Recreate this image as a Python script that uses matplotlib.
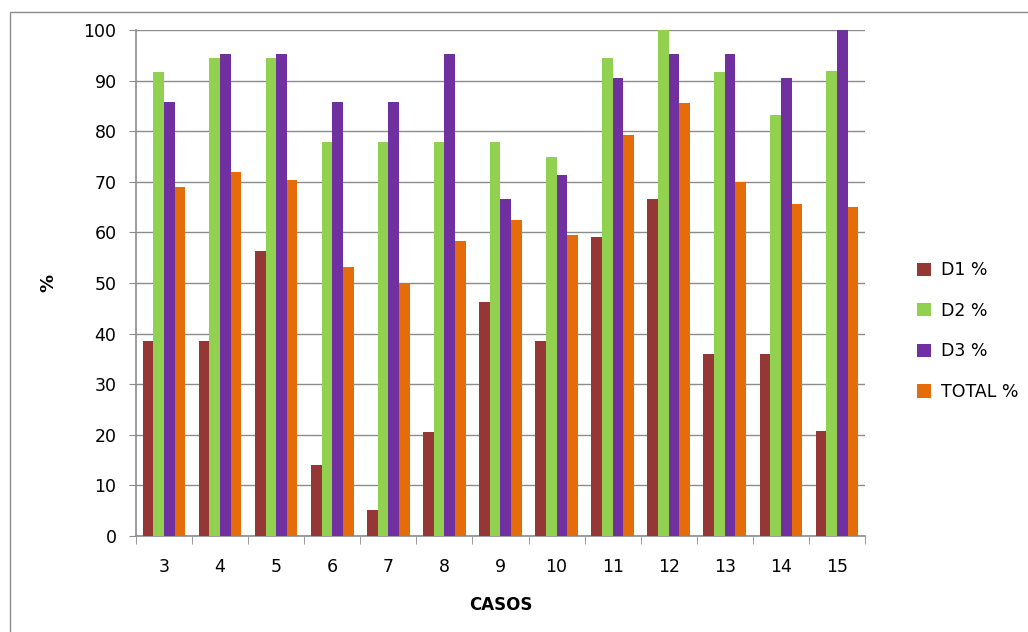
import numpy as np
import matplotlib.pyplot as plt
from matplotlib.patches import Rectangle

casos = [3, 4, 5, 6, 7, 8, 9, 10, 11, 12, 13, 14, 15]
d1 = [38.5, 38.5, 56.4, 14.1, 5.1, 20.5, 46.2, 38.5, 59.0, 66.7, 35.9, 35.9, 20.8]
d2 = [91.7, 94.4, 94.4, 77.8, 77.8, 77.8, 77.8, 75.0, 94.4, 100.0, 91.7, 83.3, 91.9]
d3 = [85.7, 95.2, 95.2, 85.7, 85.7, 95.2, 66.7, 71.4, 90.5, 95.2, 95.2, 90.5, 100.0]
total = [69.0, 71.9, 70.4, 53.1, 50.1, 58.4, 62.5, 59.4, 79.2, 85.5, 70.0, 65.6, 65.0]

series = [(d1, 'D1 %', '#953735'), (d2, 'D2 %', '#92D050'),
          (d3, 'D3 %', '#7030A0'), (total, 'TOTAL %', '#E46C0A')]

fig = plt.figure(figsize=(10.28, 6.32), dpi=100)
ax = fig.add_axes([0.1323, 0.1519, 0.7091, 0.8006])

x = np.arange(len(casos))
w = 0.19
for i, (vals, lab, col) in enumerate(series):
    ax.bar(x + (i - 1.5) * w, vals, w, color=col, label=lab, zorder=3)

ax.set_xlim(-0.5, len(casos) - 0.5)
ax.set_ylim(0, 100)
ax.set_yticks(range(0, 101, 10))
ax.yaxis.grid(True, color='#8c8c8c', linewidth=1.0, zorder=0)
ax.set_xticks(x)
ax.set_xticklabels([str(c) for c in casos], fontsize=12.5)
ax.tick_params(axis='y', labelsize=12.5, length=5, color='#8c8c8c', pad=9)
ax.tick_params(axis='x', length=0, pad=16)
ax.set_xticks(np.arange(-0.5, len(casos)), minor=True)
ax.tick_params(axis='x', which='minor', length=6, color='#8c8c8c')

for side in ['top', 'right']:
    ax.spines[side].set_visible(False)
for side in ['left', 'bottom']:
    ax.spines[side].set_color('#8c8c8c')
    ax.spines[side].set_linewidth(1.2)

ax.set_xlabel('CASOS', fontsize=12, fontweight='bold', labelpad=14)
ax.set_ylabel('%', fontsize=13, fontweight='bold')
ax.yaxis.set_label_coords(-0.108, 0.5)

ax.legend(loc='center left', bbox_to_anchor=(1.05, 0.405), frameon=False,
          fontsize=12.5, handlelength=0.8, handleheight=0.8,
          labelspacing=1.3, handletextpad=0.6)

# thin frame round the whole chart
fig.patches.append(Rectangle((10 / 1028, -0.01), 1.0, 1 - 12 / 632 + 0.01,
                             transform=fig.transFigure, fill=False,
                             edgecolor='#8c8c8c', linewidth=1))

fig.savefig('out.png', dpi=100)
